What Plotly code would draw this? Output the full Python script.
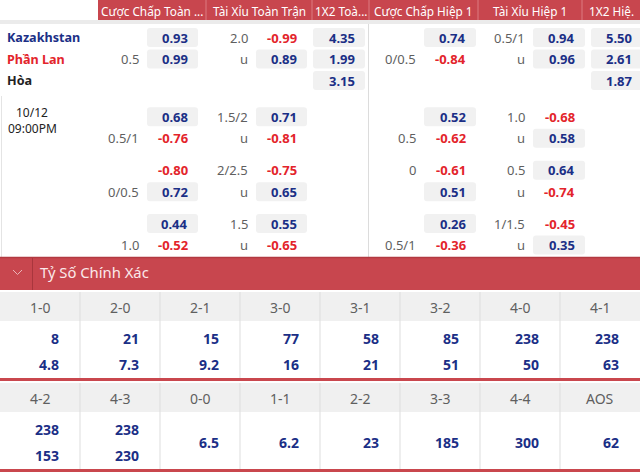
import plotly.graph_objects as go

# ---------------- DATA ----------------
headers = ["Cược Chấp Toàn ...", "Tài Xỉu Toàn Trận", "1X2 Toà...",
           "Cược Chấp Hiệp 1", "Tài Xỉu Hiệp 1", "1X2 Hiệ."]
teams = ["Kazakhstan", "Phần Lan", "Hòa"]
match_date = "10/12"
match_time = "09:00PM"

# main lines (row 1 = home, row 2 = away)
ft_hdp_lines = ["", "0.5"]
ft_hdp_odds = [0.93, 0.99]
ft_ou_lines = ["2.0", "u"]
ft_ou_odds = [-0.99, 0.89]
ft_1x2 = [4.35, 1.99, 3.15]
h1_hdp_lines = ["", "0/0.5"]
h1_hdp_odds = [0.74, -0.84]
h1_ou_lines = ["0.5/1", "u"]
h1_ou_odds = [0.94, 0.96]
h1_1x2 = [5.50, 2.61, 1.87]

# extra lines (3 blocks of 2 rows)
ft_hdp_alt_lines = [["", "0.5/1"], ["", "0/0.5"], ["", "1.0"]]
ft_hdp_alt_odds = [[0.68, -0.76], [-0.80, 0.72], [0.44, -0.52]]
ft_ou_alt_lines = [["1.5/2", "u"], ["2/2.5", "u"], ["1.5", "u"]]
ft_ou_alt_odds = [[0.71, -0.81], [-0.75, 0.65], [0.55, -0.65]]
h1_hdp_alt_lines = [["", "0.5"], ["0", ""], ["", "0.5/1"]]
h1_hdp_alt_odds = [[0.52, -0.62], [-0.61, 0.51], [0.26, -0.36]]
h1_ou_alt_lines = [["1.0", "u"], ["0.5", "u"], ["1/1.5", "u"]]
h1_ou_alt_odds = [[-0.68, 0.58], [0.64, -0.74], [-0.45, 0.35]]

cs_title = "Tỷ Số Chính Xác"
cs1_labels = ["1-0", "2-0", "2-1", "3-0", "3-1", "3-2", "4-0", "4-1"]
cs1_home = [8, 21, 15, 77, 58, 85, 238, 238]
cs1_away = [4.8, 7.3, 9.2, 16, 21, 51, 50, 63]
cs2_labels = ["4-2", "4-3", "0-0", "1-1", "2-2", "3-3", "4-4", "AOS"]
cs2_home = [238, 238]
cs2_away = [153, 230]
cs2_single = [6.5, 6.2, 23, 185, 300, 62]

# ---------------- STYLE / LAYOUT ----------------
FONT = "Segoe UI, Noto Sans, sans-serif"
RED_BG = "#c8464e"
BLUE = "#1b2f86"
REDTXT = "#e3242b"
GRAYTXT = "#5f5f5f"
BOXBG = "#f1f1f1"

shapes = []
anns = []


def txt(x, y, s, color, size, bold=False, anchor="right"):
    anns.append(dict(x=x, y=y, xref="x", yref="y", showarrow=False,
                     text=f"<b>{s}</b>" if bold else s,
                     xanchor=anchor, yanchor="middle",
                     font=dict(family=FONT, size=size, color=color)))


def rect(x0, y0, x1, y1, color):
    shapes.append(dict(type="rect", xref="x", yref="y", x0=x0, y0=y0, x1=x1, y1=y1,
                       fillcolor=color, line=dict(width=0), layer="below"))


def hline(x0, x1, y, color, w=1):
    shapes.append(dict(type="line", xref="x", yref="y", x0=x0, x1=x1, y0=y, y1=y,
                       line=dict(color=color, width=w), layer="below"))


def vline(x, y0, y1, color, w=1):
    shapes.append(dict(type="line", xref="x", yref="y", x0=x, x1=x, y0=y0, y1=y1,
                       line=dict(color=color, width=w), layer="below"))


def rrect(x0, y0, x1, y1, color, r=3):
    p = (f"M{x0+r},{y0} L{x1-r},{y0} Q{x1},{y0} {x1},{y0+r} L{x1},{y1-r} "
         f"Q{x1},{y1} {x1-r},{y1} L{x0+r},{y1} Q{x0},{y1} {x0},{y1-r} "
         f"L{x0},{y0+r} Q{x0},{y0} {x0+r},{y0} Z")
    shapes.append(dict(type="path", xref="x", yref="y", path=p, fillcolor=color,
                       line=dict(width=0), layer="below"))


# ---- header ----
hdr_edges = [98, 206, 312, 369, 478, 582, 640]
rect(hdr_edges[0], 0, 640, 20, RED_BG)
for e in hdr_edges[1:-1]:
    vline(e, 0, 20, "#dc7a80")
for i, h in enumerate(headers):
    txt((hdr_edges[i] + hdr_edges[i + 1]) / 2, 11, h, "white", 11.8, anchor="center")
rect(0, 20, 640, 24, "#ebebeb")

# vertical separators upper section
vline(368.5, 24, 257, "#dcdcdc")
vline(1.5, 96, 257, "#e4e4e4")

# column geometry: (line_right, box_x0, box_x1, value_right)
COL = {
    "ft_hdp": (141, 147, 198, 190),
    "ft_ou": (250, 256, 307, 299),
    "ft_1x2": (None, 313, 365, 357),
    "h1_hdp": (418, 424, 476, 468),
    "h1_ou": (527, 533, 585, 577),
    "h1_1x2": (None, 591, 646, 634),
}
BH = 9.5  # half box height


def odd_cell(col, y, v, line=None):
    lr, bx0, bx1, vr = COL[col]
    if line:
        txt(lr, y, line, GRAYTXT, 13)
    if v > 0:
        rrect(bx0, y - BH, bx1, y + BH, BOXBG)
    txt(vr, y, f"{v:.2f}", BLUE if v > 0 else REDTXT, 13, bold=True)


main_rows = [37.5, 59, 80.5]
team_colors = [BLUE, REDTXT, "#222222"]
for i, t in enumerate(teams):
    txt(5, main_rows[i], t, team_colors[i], 12.6, bold=True, anchor="left")

for i in range(2):
    y = main_rows[i]
    odd_cell("ft_hdp", y, ft_hdp_odds[i], ft_hdp_lines[i])
    odd_cell("ft_ou", y, ft_ou_odds[i], ft_ou_lines[i])
    odd_cell("h1_hdp", y, h1_hdp_odds[i], h1_hdp_lines[i])
    odd_cell("h1_ou", y, h1_ou_odds[i], h1_ou_lines[i])
for i in range(3):
    y = main_rows[i]
    odd_cell("ft_1x2", y, ft_1x2[i])
    odd_cell("h1_1x2", y, h1_1x2[i])

txt(32, 112.5, match_date, "#222222", 12, anchor="center")
txt(32, 128.5, match_time, "#222222", 12, anchor="center")

block_y = [116.7, 170.2, 223.5]
for b in range(3):
    for r in range(2):
        y = block_y[b] + r * 21.5
        odd_cell("ft_hdp", y, ft_hdp_alt_odds[b][r], ft_hdp_alt_lines[b][r])
        odd_cell("ft_ou", y, ft_ou_alt_odds[b][r], ft_ou_alt_lines[b][r])
        odd_cell("h1_hdp", y, h1_hdp_alt_odds[b][r], h1_hdp_alt_lines[b][r])
        odd_cell("h1_ou", y, h1_ou_alt_odds[b][r], h1_ou_alt_lines[b][r])

# ---- correct score bar ----
rect(0, 257, 640, 290, RED_BG)
hline(0, 640, 257.5, "#b23a41", 1.5)
vline(32.5, 258, 290, "#a9363d", 1)
shapes.append(dict(type="path", xref="x", yref="y", path="M13,270 L17.5,274.5 L22,270",
                   line=dict(color="#eab4b8", width=1)))
txt(38, 272, cs_title, "#fbe9ea", 14.8, anchor="left")


def cs_section(top, labels, home, away, single):
    hdr_top, hdr_bot = top, top + 29
    rect(0, hdr_top, 640, hdr_bot, "#f0f0f0")
    bot = hdr_bot + 57
    for k in range(1, 8):
        vline(80 * k, hdr_top, bot, "#dddddd")
    for k, lab in enumerate(labels):
        txt(80 * k + 40, (hdr_top + hdr_bot) / 2 + 0.5, lab, GRAYTXT, 14, anchor="center")
    y1, y2 = hdr_bot + 17, hdr_bot + 43
    n2 = len(home)
    for k in range(n2):
        txt(80 * k + 61, y1, f"{home[k]:g}", BLUE, 14, bold=True)
        txt(80 * k + 61, y2, f"{away[k]:g}", BLUE, 14, bold=True)
    for j, v in enumerate(single):
        k = n2 + j
        txt(80 * k + 61, (y1 + y2) / 2, f"{v:g}", BLUE, 14, bold=True)
    rect(0, bot, 640, bot + 3, "#c9474e")
    return bot + 3


cs_section(292, cs1_labels, cs1_home, cs1_away, [])
cs_section(383, cs2_labels, cs2_home, cs2_away, cs2_single)

fig = go.Figure()
fig.add_trace(go.Scatter(x=[0, 640], y=[0, 472], mode="markers",
                         marker=dict(opacity=0), hoverinfo="skip", showlegend=False))
fig.update_layout(
    width=640, height=472, autosize=False,
    margin=dict(l=0, r=0, t=0, b=0, pad=0),
    paper_bgcolor="white", plot_bgcolor="white",
    xaxis=dict(range=[0, 640], visible=False, fixedrange=True),
    yaxis=dict(range=[472, 0], visible=False, fixedrange=True),
    shapes=shapes, annotations=anns, showlegend=False,
)
fig.write_html("out.html", config={"displayModeBar": False},
               post_script="document.body.style.margin='0';document.body.style.overflow='hidden';")
